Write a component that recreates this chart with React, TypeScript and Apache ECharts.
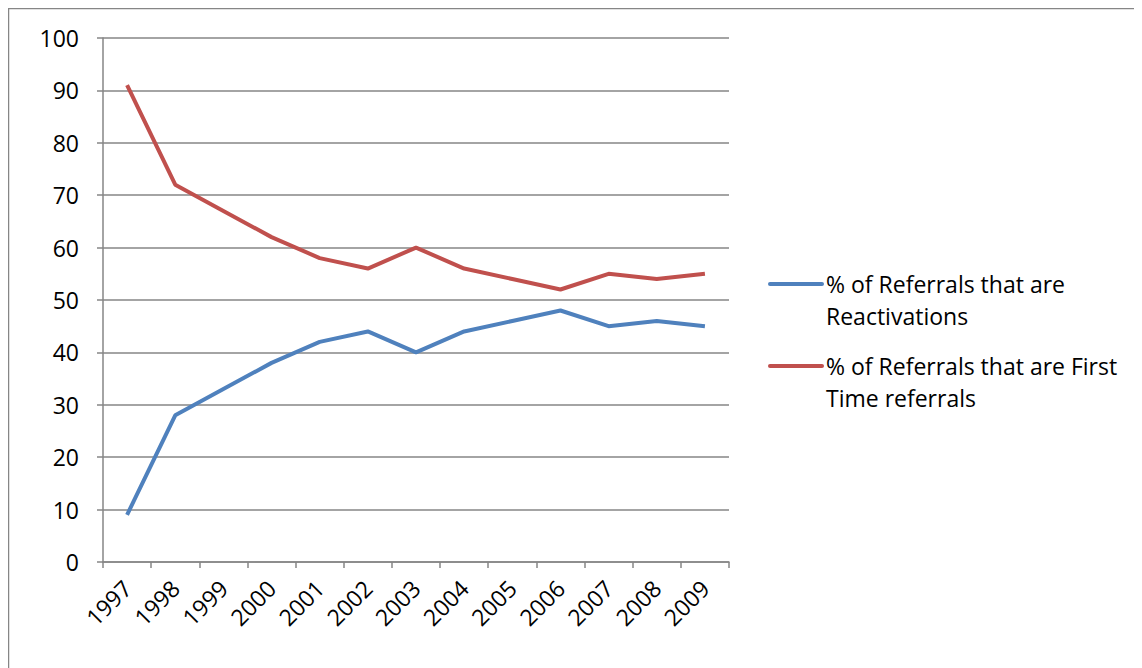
import React, { useEffect, useRef } from "react";
import * as echarts from "echarts";

const years = ["1997", "1998", "1999", "2000", "2001", "2002", "2003", "2004", "2005", "2006", "2007", "2008", "2009"];
const reactivations = [9, 28, 33, 38, 42, 44, 40, 44, 46, 48, 45, 46, 45];
const firstTime = [91, 72, 67, 62, 58, 56, 60, 56, 54, 52, 55, 54, 55];
const seriesNames = ["% of Referrals that are Reactivations", "% of Referrals that are First Time referrals"];
const legendLines = [
  ["% of Referrals that are", "Reactivations"],
  ["% of Referrals that are First", "Time referrals"],
];
const colors = ["#4F81BD", "#C0504D"];
const FONT = "'Open Sans', Lato, sans-serif";
const GRAY = "#868686";

export default function App() {
  const ref = useRef<HTMLDivElement>(null);
  useEffect(() => {
    if (!ref.current) return;
    const chart = echarts.init(ref.current, null, { renderer: "svg" });
    const legendGraphics: any[] = [];
    legendLines.forEach((lines, i) => {
      const y0 = 276 + i * 82;
      legendGraphics.push({
        type: "line",
        shape: { x1: 762, y1: y0, x2: 814, y2: y0 },
        style: { stroke: colors[i], lineWidth: 4, lineCap: "round" },
      });
      lines.forEach((t, j) => {
        legendGraphics.push({
          type: "text",
          x: 818,
          y: y0 + j * 32,
          style: { text: t, font: `23px ${FONT}`, fill: "#000", verticalAlign: "middle", align: "left" },
        });
      });
    });
    chart.setOption({
      animation: false,
      grid: { left: 95, top: 30, width: 626, height: 524, containLabel: false },
      xAxis: {
        type: "category",
        data: years,
        boundaryGap: true,
        axisLine: { lineStyle: { color: GRAY, width: 1.5 } },
        axisTick: { show: true, inside: false, length: 6, alignWithLabel: false, lineStyle: { color: GRAY, width: 1.5 } },
        axisLabel: { rotate: 45, margin: 22, color: "#000", fontSize: 23, fontFamily: FONT, interval: 0 },
        splitLine: { show: false },
      },
      yAxis: {
        type: "value",
        min: 0,
        max: 100,
        interval: 10,
        axisLine: { show: true, lineStyle: { color: GRAY, width: 1.5 } },
        axisTick: { show: true, inside: false, length: 6, lineStyle: { color: GRAY, width: 1.5 } },
        axisLabel: { margin: 24, color: "#000", fontSize: 23, fontFamily: FONT },
        splitLine: { show: true, lineStyle: { color: GRAY, width: 1.5 } },
      },
      series: [
        {
          name: seriesNames[0],
          type: "line",
          data: reactivations,
          showSymbol: false,
          lineStyle: { color: colors[0], width: 4 },
          itemStyle: { color: colors[0] },
        },
        {
          name: seriesNames[1],
          type: "line",
          data: firstTime,
          showSymbol: false,
          lineStyle: { color: colors[1], width: 4 },
          itemStyle: { color: colors[1] },
        },
      ],
      graphic: [
        {
          type: "rect",
          shape: { x: 0.5, y: 0.5, width: 1300, height: 800 },
          style: { fill: "none", stroke: GRAY, lineWidth: 1.5 },
          silent: true,
        },
        ...legendGraphics,
      ],
    });
    return () => chart.dispose();
  }, []);
  return <div ref={ref} style={{ width: 1134, height: 660 }} />;
}
